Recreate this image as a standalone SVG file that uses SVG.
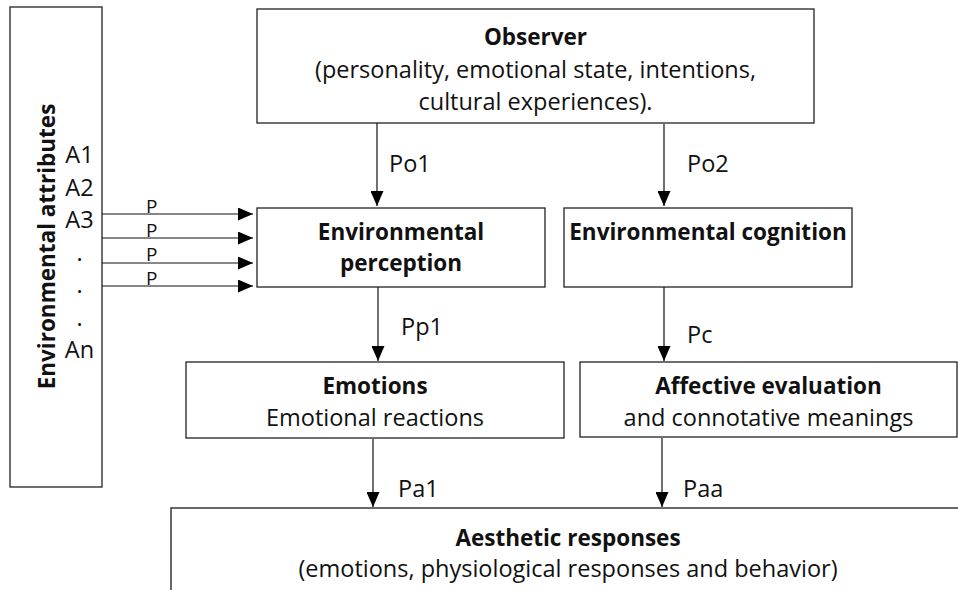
<svg xmlns="http://www.w3.org/2000/svg" width="958" height="590" viewBox="0 0 958 590">
<defs>
<style>
.box{fill:#fff;stroke:#222;stroke-width:1.3}
.t{font-family:"Open Sans","Liberation Sans",sans-serif;font-size:23.5px;fill:#111}
.b{font-weight:bold;font-size:22.5px}
.m{text-anchor:middle}
.p{font-size:19px}
.c{stroke:#111;stroke-width:1.2;fill:none;marker-end:url(#ah)}
</style>
<marker id="ah" markerUnits="userSpaceOnUse" markerWidth="16" markerHeight="13" refX="15" refY="6.5" orient="auto">
<path d="M0,0 L15,6.5 L0,13 z" fill="#000"/>
</marker>
</defs>
<rect width="958" height="590" fill="#fff"/>

<g id="attributes">
<rect class="box" x="10" y="7" width="92" height="480"/>
<text class="t b m" transform="translate(55,246.5) rotate(-90)">Environmental attributes</text>
<text class="t m" x="79.5" y="163">A1</text>
<text class="t m" x="79.5" y="195.5">A2</text>
<text class="t m" x="79.5" y="228">A3</text>
<text class="t m" x="79.5" y="260.5">.</text>
<text class="t m" x="79.5" y="293">.</text>
<text class="t m" x="79.5" y="325.5">.</text>
<text class="t m" x="79.5" y="358">An</text>
</g>

<g id="observer">
<rect class="box" x="257" y="9" width="557" height="114"/>
<text class="t b m" x="535.5" y="45">Observer</text>
<text class="t m" x="535.5" y="78">(personality, emotional state, intentions,</text>
<text class="t m" x="535.5" y="110">cultural experiences).</text>
</g>

<g id="perception">
<rect class="box" x="257" y="208" width="288" height="79"/>
<text class="t b m" x="401" y="240">Environmental</text>
<text class="t b m" x="401" y="271">perception</text>
</g>

<g id="cognition">
<rect class="box" x="564" y="208" width="288" height="79"/>
<text class="t b m" x="708" y="240">Environmental cognition</text>
</g>

<g id="emotions">
<rect class="box" x="186" y="362" width="378" height="76"/>
<text class="t b m" x="375" y="394">Emotions</text>
<text class="t m" x="375" y="426">Emotional reactions</text>
</g>

<g id="affective">
<rect class="box" x="580" y="362" width="377" height="75"/>
<text class="t b m" x="768.5" y="394">Affective evaluation</text>
<text class="t m" x="768.5" y="426">and connotative meanings</text>
</g>

<g id="aesthetic">
<rect class="box" x="171" y="508" width="820" height="120" style="stroke:#444;stroke-width:1.6"/>
<text class="t b m" x="568" y="546">Aesthetic responses</text>
<text class="t m" x="568" y="577">(emotions, physiological responses and behavior)</text>
</g>

<g id="connectors">
<line class="c" x1="102" y1="214" x2="253" y2="214"/>
<line class="c" x1="102" y1="238" x2="253" y2="238"/>
<line class="c" x1="102" y1="263" x2="253" y2="263"/>
<line class="c" x1="102" y1="286" x2="253" y2="286"/>
<text class="t p" x="146" y="213">P</text>
<text class="t p" x="146" y="237">P</text>
<text class="t p" x="146" y="261">P</text>
<text class="t p" x="146" y="285">P</text>

<line class="c" x1="377" y1="123" x2="377" y2="206"/>
<text class="t" x="389" y="172">Po1</text>
<line class="c" x1="664" y1="124" x2="664" y2="206"/>
<text class="t" x="687" y="172">Po2</text>

<line class="c" x1="378" y1="287" x2="378" y2="361"/>
<text class="t" x="401" y="335">Pp1</text>
<line class="c" x1="664" y1="287" x2="664" y2="361"/>
<text class="t" x="687" y="343">Pc</text>

<line class="c" x1="373" y1="439" x2="373" y2="507"/>
<text class="t" x="398" y="497">Pa1</text>
<line class="c" x1="662" y1="438" x2="662" y2="507"/>
<text class="t" x="683" y="497">Paa</text>
</g>
</svg>
